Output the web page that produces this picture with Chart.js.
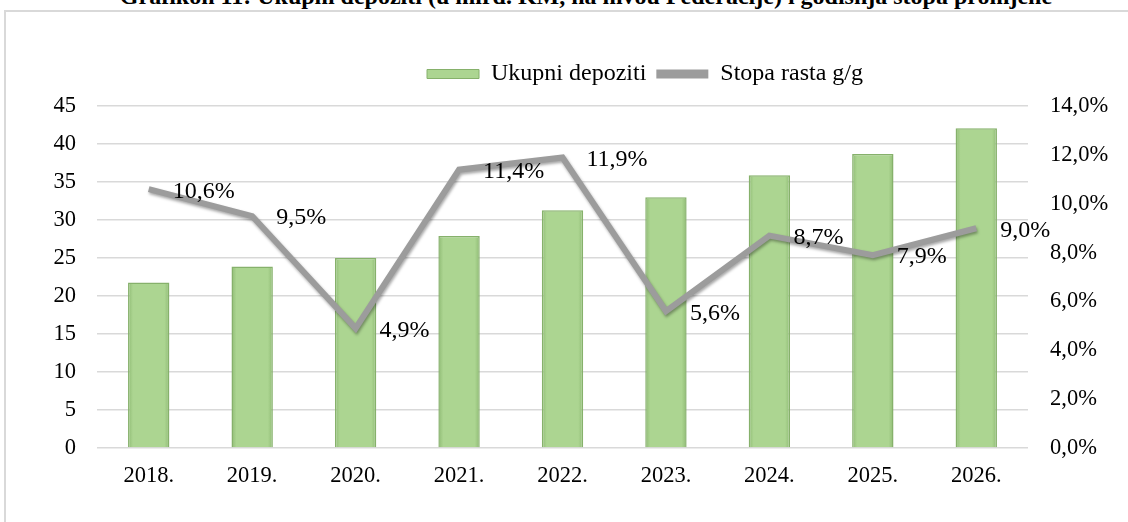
<!DOCTYPE html>
<html>
<head>
<meta charset="utf-8">
<script src="https://cdn.jsdelivr.net/npm/chart.js@4.4.1/dist/chart.umd.min.js"></script>
<style>
  html, body { margin: 0; padding: 0; background: #fff; overflow: hidden; }
  #wrap { position: relative; width: 1128px; height: 522px; overflow: hidden; }
  #frame { position: absolute; left: 4px; top: 10px; width: 1200px; height: 600px; border: 2px solid #d9d9d9; }
  #title { position: absolute; left: 22px; top: -17px; width: 1128px; text-align: center;
           font: bold 24px "Liberation Serif", "Times New Roman", serif; color: #000; white-space: nowrap; }
  #chart { position: absolute; left: 0; top: 0; }
</style>
</head>
<body>
<div id="wrap">
  <div id="frame"></div>
  <div id="title">Grafikon 11: Ukupni depoziti (u mlrd. KM, na nivou Federacije) i godišnja stopa promjene</div>
  <canvas id="chart" width="1128" height="522"></canvas>
</div>
<script>
// data
const years = ['2018.', '2019.', '2020.', '2021.', '2022.', '2023.', '2024.', '2025.', '2026.'];
const deposits = [21.8, 23.9, 25.0, 27.9, 31.3, 33.0, 35.9, 38.7, 42.1];
const growth = [10.6, 9.5, 4.9, 11.4, 11.9, 5.6, 8.7, 7.9, 9.0];

const serif = '"Liberation Serif", "Times New Roman", serif';
const pct = v => v.toFixed(1).replace('.', ',') + '%';
const barPct = 0.4;

// bevelled look: darker at the bar edges
function barFill(c) {
    const chart = c.chart;
    const xs = chart.scales.x;
    if (!chart.chartArea || c.dataIndex === undefined) return '#acd591';
    const cx = xs.getPixelForValue(c.dataIndex);
    const half = chart.chartArea.width / years.length * barPct / 2;
    const g = chart.ctx.createLinearGradient(cx - half, 0, cx + half, 0);
    g.addColorStop(0, '#8fbb74');
    g.addColorStop(0.12, '#acd591');
    g.addColorStop(0.88, '#acd591');
    g.addColorStop(1, '#8fbb74');
    return g;
}

// labels to the right of each line point
const lineLabels = {
    id: 'lineLabels',
    afterDatasetsDraw(chart) {
        const meta = chart.getDatasetMeta(1);
        const ctx = chart.ctx;
        ctx.save();
        ctx.font = '24px ' + serif;
        ctx.fillStyle = '#000';
        ctx.textAlign = 'left';
        ctx.textBaseline = 'middle';
        meta.data.forEach((pt, i) => {
            ctx.fillText(pct(growth[i]), pt.x + 24, pt.y + 2);
        });
        ctx.restore();
    }
};

// soft shadow under the line, legend nudged to the right
const tweaks = {
    id: 'tweaks',
    afterLayout(chart) {
        chart.legend.left += 81;
        chart.legend.right += 81;
    },
    beforeDatasetDraw(chart, args) {
        if (args.index === 1) {
            const ctx = chart.ctx;
            ctx.save();
            ctx.shadowColor = 'rgba(0,0,0,0.35)';
            ctx.shadowBlur = 3;
            ctx.shadowOffsetX = 1;
            ctx.shadowOffsetY = 2;
        }
    },
    afterDatasetDraw(chart, args) {
        if (args.index === 1) chart.ctx.restore();
    }
};

new Chart(document.getElementById('chart'), {
    type: 'bar',
    data: {
        labels: years,
        datasets: [{
            type: 'bar',
            label: 'Ukupni depoziti',
            data: deposits,
            backgroundColor: barFill,
            borderColor: '#86b16b',
            borderWidth: 1.5,
            barPercentage: barPct,
            categoryPercentage: 1,
            yAxisID: 'y',
            order: 1
        }, {
            type: 'line',
            label: 'Stopa rasta g/g',
            data: growth,
            borderColor: '#9c9c9c',
            backgroundColor: '#9c9c9c',
            borderWidth: 6,
            pointRadius: 0,
            tension: 0,
            yAxisID: 'y1',
            order: 0
        }]
    },
    options: {
        responsive: false,
        devicePixelRatio: 1,
        animation: false,
        layout: { padding: { top: 52, bottom: 17, left: 0, right: 0 } },
        plugins: {
            tooltip: { enabled: false },
            title: { display: false },
            subtitle: { display: true, text: '', weight: 500, font: { size: 1 }, padding: { top: 0, bottom: 9 } },
            legend: {
                position: 'top',
                labels: {
                    font: { family: serif, size: 24 },
                    color: '#000',
                    boxWidth: 52,
                    boxHeight: 9,
                    padding: 10,
                    sort: (a, b) => a.datasetIndex - b.datasetIndex,
                    generateLabels(chart) {
                        const items = Chart.defaults.plugins.legend.labels.generateLabels(chart);
                        items.forEach(it => {
                            if (it.datasetIndex === 1) { it.lineWidth = 0; it.fillStyle = '#9c9c9c'; }
                            else { it.lineWidth = 1; it.fillStyle = '#acd591'; }
                        });
                        return items;
                    }
                }
            }
        },
        scales: {
            x: {
                grid: { display: false, drawTicks: false },
                border: { display: false },
                ticks: { color: '#000', font: { family: serif, size: 22.5 }, padding: 15 }
            },
            y: {
                position: 'left',
                min: 0, max: 45,
                ticks: { stepSize: 5, color: '#000', font: { family: serif, size: 22.5 }, padding: 21 },
                grid: { color: '#d9d9d9', lineWidth: 1.5, drawTicks: false },
                border: { display: false },
                afterFit(scale) { scale.width = 97; }
            },
            y1: {
                position: 'right',
                min: 0, max: 14,
                ticks: { stepSize: 2, color: '#000', font: { family: serif, size: 22.5 }, padding: 22,
                         callback: v => pct(v) },
                grid: { display: false, drawTicks: false },
                border: { display: false },
                afterFit(scale) { scale.width = 100; }
            }
        }
    },
    plugins: [lineLabels, tweaks]
});
</script>
</body>
</html>
